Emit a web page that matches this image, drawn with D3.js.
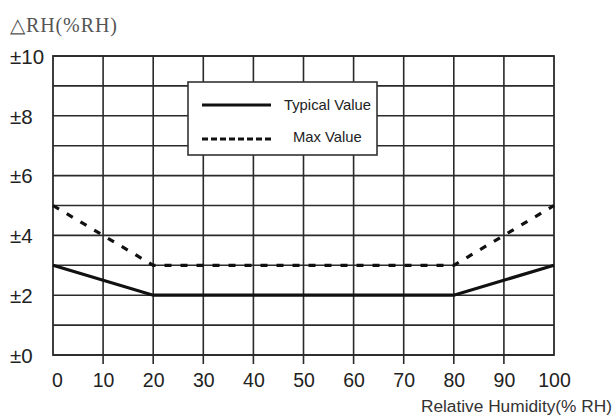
<!DOCTYPE html>
<html><head><meta charset="utf-8">
<script src="https://cdn.jsdelivr.net/npm/d3@7"></script>
<style>
html,body{margin:0;padding:0;background:#fff;}
svg{display:block;}
</style></head>
<body>
<svg id="chart" width="615" height="417"></svg>
<script>
const humidity = [0, 20, 80, 100];
const typicalValue = [3, 2, 2, 3];
const maxValue = [5, 3, 3, 5];
const xTicks = [0, 10, 20, 30, 40, 50, 60, 70, 80, 90, 100];
const yGrid = [0, 1, 2, 3, 4, 5, 6, 7, 8, 9, 10];
const yTickLabels = [0, 2, 4, 6, 8, 10];
const seriesNames = ["Typical Value", "Max Value"];

(function () {
const svg = d3.select("#chart");
const pL = 53, pR = 554, pT = 56, pB = 355;
const x = d3.scaleLinear().domain([0, 100]).range([pL, pR]);
const y = d3.scaleLinear().domain([0, 10]).range([pB, pT]);
const ink = "#2a2a2a";

// horizontal grid
svg.append("g").selectAll("line").data(yGrid).join("line")
  .attr("x1", pL).attr("x2", pR)
  .attr("y1", d => y(d)).attr("y2", d => y(d))
  .attr("stroke", ink).attr("stroke-width", 1.6);

// vertical grid with tick extension
svg.append("g").selectAll("line").data(xTicks.slice(1, -1)).join("line")
  .attr("x1", d => x(d)).attr("x2", d => x(d))
  .attr("y1", pT).attr("y2", pB + 9)
  .attr("stroke", ink).attr("stroke-width", 1.6);

// frame
svg.append("rect").attr("x", pL).attr("y", pT)
  .attr("width", pR - pL).attr("height", pB - pT)
  .attr("fill", "none").attr("stroke", ink).attr("stroke-width", 1.8);

// x axis labels
const xAxis = d3.axisBottom(x).tickValues(xTicks).tickSize(0).tickPadding(0).tickFormat(d3.format("d"));
const gx = svg.append("g").attr("transform", `translate(0,${pB})`).call(xAxis);
gx.select(".domain").remove();
gx.selectAll("text").attr("y", 32).attr("dy", null)
  .attr("font-family", "Liberation Sans, Arial, sans-serif").attr("font-size", 19.5).attr("fill", "#222");
gx.selectAll(".tick").filter(d => d === 0).select("text").attr("dx", 4);

// y axis labels (left aligned)
const yAxis = d3.axisLeft(y).tickValues(yTickLabels).tickSize(0).tickPadding(0).tickFormat(d => "±" + d);
const gy = svg.append("g").call(yAxis);
gy.select(".domain").remove();
gy.selectAll("text").attr("x", 10).attr("text-anchor", "start").attr("dy", "0.36em")
  .attr("font-family", "Liberation Sans, Arial, sans-serif").attr("font-size", 20.5).attr("fill", "#222");

// series
const line = d3.line().x(d => x(d[0])).y(d => y(d[1]));
svg.append("path").datum(humidity.map((h, i) => [h, typicalValue[i]]))
  .attr("d", line).attr("fill", "none").attr("stroke", "#111").attr("stroke-width", 3.2);
svg.append("path").datum(humidity.map((h, i) => [h, maxValue[i]]))
  .attr("d", line).attr("fill", "none").attr("stroke", "#111").attr("stroke-width", 3.2)
  .attr("stroke-dasharray", "7,9");

// legend
const lg = svg.append("g");
lg.append("rect").attr("x", 188).attr("y", 82).attr("width", 189).attr("height", 73)
  .attr("fill", "#fff").attr("stroke", "#333").attr("stroke-width", 1.6);
lg.append("line").attr("x1", 202).attr("x2", 271).attr("y1", 105).attr("y2", 105)
  .attr("stroke", "#111").attr("stroke-width", 3);
lg.append("line").attr("x1", 202).attr("x2", 271).attr("y1", 139).attr("y2", 139)
  .attr("stroke", "#111").attr("stroke-width", 3).attr("stroke-dasharray", "6,3");
lg.append("text").attr("x", 284).attr("y", 105).attr("dy", "0.36em").text(seriesNames[0])
  .attr("font-family", "Liberation Sans, Arial, sans-serif").attr("font-size", 14.8).attr("fill", "#222");
lg.append("text").attr("x", 293).attr("y", 137).attr("dy", "0.36em").text(seriesNames[1])
  .attr("font-family", "Liberation Sans, Arial, sans-serif").attr("font-size", 14.8).attr("fill", "#222");

// y title
svg.append("text").attr("x", 10).attr("y", 32).text("△RH(%RH)")
  .attr("font-family", "Liberation Serif, serif").attr("font-size", 20).attr("fill", "#555")
  .attr("textLength", 107).attr("lengthAdjust", "spacing");

// x title
svg.append("text").attr("x", 612).attr("y", 412).attr("text-anchor", "end").text("Relative Humidity(% RH)")
  .attr("font-family", "Liberation Sans, Arial, sans-serif").attr("font-size", 17.3).attr("fill", "#333");
})();
</script>
</body></html>
